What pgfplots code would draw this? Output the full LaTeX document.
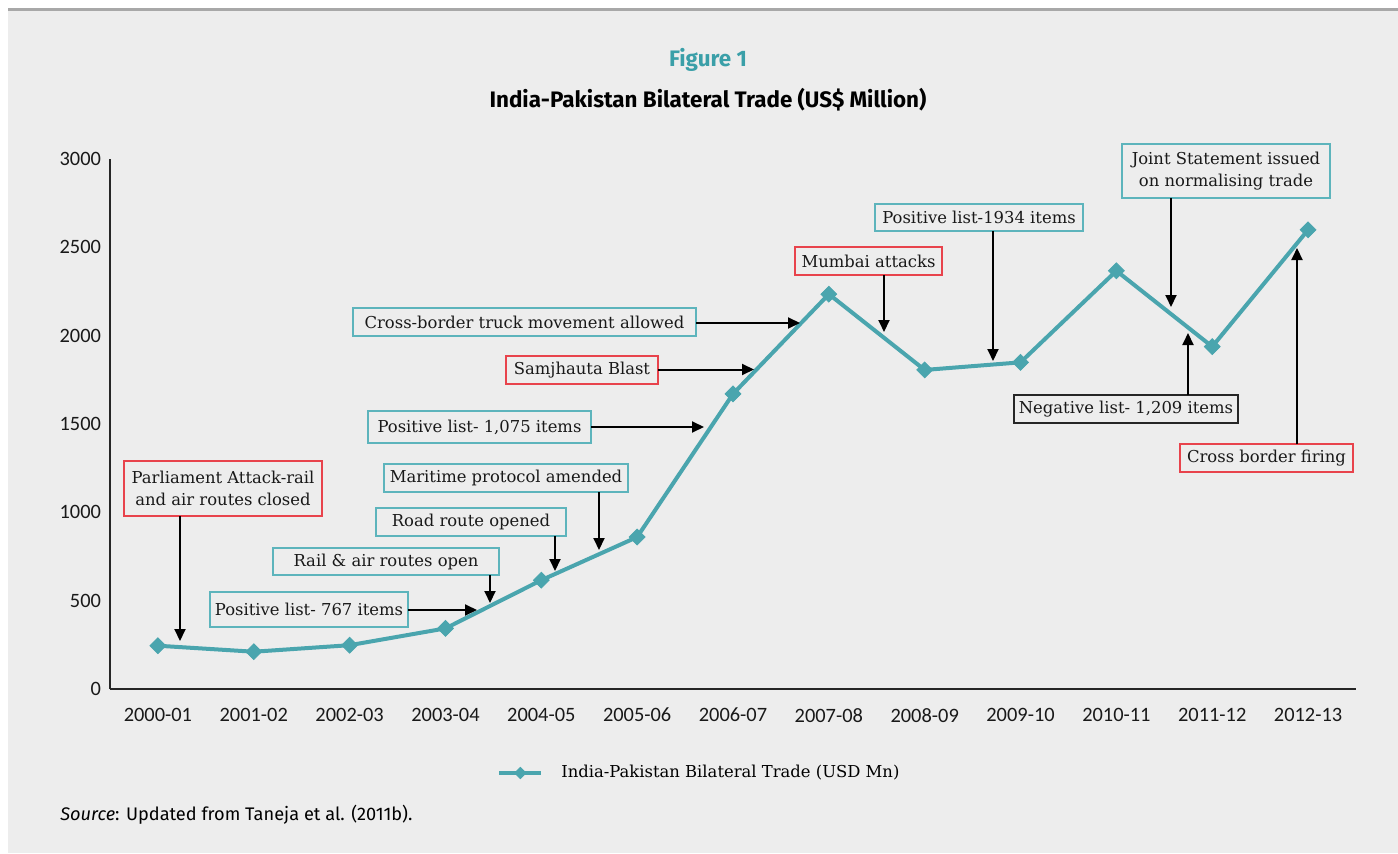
\documentclass[border=0pt]{standalone}
\usepackage{pgfplots}
\pgfplotsset{compat=1.18}
\usepackage{fontspec}
\setmainfont{DejaVu Serif}
\newfontfamily\tickfont{Carlito}
\newfontfamily\titlefont{Fira Sans}
\usetikzlibrary{arrows.meta}
\definecolor{bg}{HTML}{EDEDED}
\definecolor{rulec}{HTML}{A8A8A8}
\definecolor{tealline}{HTML}{4AA5AE}
\definecolor{tealbox}{HTML}{5DB4BC}
\definecolor{redbox}{HTML}{E8434C}
\definecolor{titleteal}{HTML}{3A9FA8}

\begin{document}
\begin{tikzpicture}
\begin{scope}[x=0.5pt,y=-0.5pt,shift={(-110,-689)}]
\useasboundingbox (0,0) rectangle (1398,853);
\fill[white] (0,0) rectangle (1398,853);
\fill[bg] (8,10) rectangle (1398,853);
\fill[rulec] (8,8) rectangle (1398,11);
\end{scope}

\begin{axis}[
  scale only axis, width=623pt, height=265pt,
  xmin=-0.5, xmax=12.5, ymin=0, ymax=3000,
  axis lines=left,
  axis line style={-, line width=1pt, black!85},
  xtick={0,...,12},
  xticklabels={2000-01,2001-02,2002-03,2003-04,2004-05,2005-06,2006-07,2007-08,2008-09,2009-10,2010-11,2011-12,2012-13},
  ytick={0,500,1000,1500,2000,2500,3000},
  major tick length=0pt,
  tick label style={font=\tickfont\fontsize{10.2}{12}\selectfont, text=black!90},
  /pgf/number format/assume math mode=true,
  /pgf/number format/1000 sep={},
  xticklabel style={yshift=-6pt},
  yticklabel style={xshift=-1pt},
  clip=false,
  legend style={at={(0.3105,-0.1585)}, anchor=west, draw=none, fill=none,
    font=\fontsize{8.2}{10}\selectfont, inner sep=0pt,
    nodes={inner xsep=1pt}},
  legend image code/.code={\draw[#1,mark repeat=2,mark phase=2,mark size=2pt] plot coordinates {(0pt,0pt) (10.5pt,0pt) (21pt,0pt)};},
]
\addplot[tealline, line width=2pt, mark=square*, mark size=2.8pt,
  mark options={rotate=45, fill=tealline, draw=tealline, line width=0.4pt}]
  coordinates {(0,245) (1,211) (2,248) (3,343) (4,616) (5,860) (6,1670) (7,2235) (8,1806) (9,1849) (10,2367) (11,1938) (12,2599)};
\addlegendentry{\hspace{8pt}India-Pakistan Bilateral Trade (USD Mn)}
\end{axis}

\begin{scope}[x=0.5pt,y=-0.5pt,shift={(-110,-689)},
  arr/.style={-{Triangle[length=6pt,width=5.5pt]}, line width=1pt, black},
  tb/.style={draw=tealbox, line width=0.8pt},
  rb/.style={draw=redbox, line width=0.8pt},
  kb/.style={draw=black!85, line width=0.8pt},
  lab/.style={font=\fontsize{8.2}{11}\selectfont, align=center, inner sep=0pt, text=black!90}]
\node[font=\titlefont\bfseries\fontsize{11.2}{13}\selectfont, text=titleteal] at (708,60) {Figure 1};
\node[font=\titlefont\bfseries\fontsize{11.2}{13}\selectfont] at (708,100) {India-Pakistan Bilateral Trade (US\$ Million)};
\node[font=\titlefont\fontsize{9.1}{11}\selectfont, anchor=west, inner sep=0pt] at (60,815) {\textit{Source}: Updated from Taneja et al. (2011b).};

% 1 Parliament
\draw[rb] (124,461) rectangle (322,516);
\node[lab] at (223,488.5) {Parliament Attack-rail\\and air routes closed};
\draw[arr] (180,516) -- (180,641);
% 2 Positive 767
\draw[tb] (210,592) rectangle (408,627);
\node[lab] at (309,609.5) {Positive list- 767 items};
\draw[arr] (408,610) -- (477,610);
% 3 Rail & air
\draw[tb] (273,548) rectangle (499,575);
\node[lab] at (386,561.5) {Rail \& air routes open};
\draw[arr] (490,575) -- (490,603);
% 4 Road
\draw[tb] (376,508) rectangle (566,536);
\node[lab] at (471,522) {Road route opened};
\draw[arr] (555,536) -- (555,571);
% 5 Maritime
\draw[tb] (384,464) rectangle (628,492);
\node[lab] at (506,478) {Maritime protocol amended};
\draw[arr] (599,492) -- (599,550);
% 6 Positive 1,075
\draw[tb] (368,411) rectangle (591,443);
\node[lab] at (479.5,427) {Positive list- 1,075 items};
\draw[arr] (591,427) -- (704,427);
% 7 Samjhauta
\draw[rb] (506,356) rectangle (658,384);
\node[lab] at (582,370) {Samjhauta Blast};
\draw[arr] (658,369.5) -- (754,369.5);
% 8 Cross-border truck
\draw[tb] (353,308) rectangle (696,336);
\node[lab] at (524.5,322) {Cross-border truck movement allowed};
\draw[arr] (696,323) -- (800,323);
% 9 Mumbai
\draw[rb] (795,247) rectangle (942,275);
\node[lab] at (868.5,261) {Mumbai attacks};
\draw[arr] (884,275) -- (884,332);
% 10 Positive 1934
\draw[tb] (875,204) rectangle (1083,231);
\node[lab] at (979,217.5) {Positive list-1934 items};
\draw[arr] (993,231) -- (993,361);
% 11 Joint statement
\draw[tb] (1122,144) rectangle (1330,198);
\node[lab] at (1226,171) {Joint Statement issued\\on normalising trade};
\draw[arr] (1171,198) -- (1171,307);
% 12 Negative list
\draw[kb] (1014,395) rectangle (1238,423);
\node[lab] at (1126,409) {Negative list- 1,209 items};
\draw[arr] (1188,395) -- (1188,333);
% 13 Cross border firing
\draw[rb] (1180,444) rectangle (1353,472);
\node[lab] at (1266.5,458) {Cross border firing};
\draw[arr] (1297,444) -- (1297,248);
\end{scope}
\end{tikzpicture}
\end{document}
